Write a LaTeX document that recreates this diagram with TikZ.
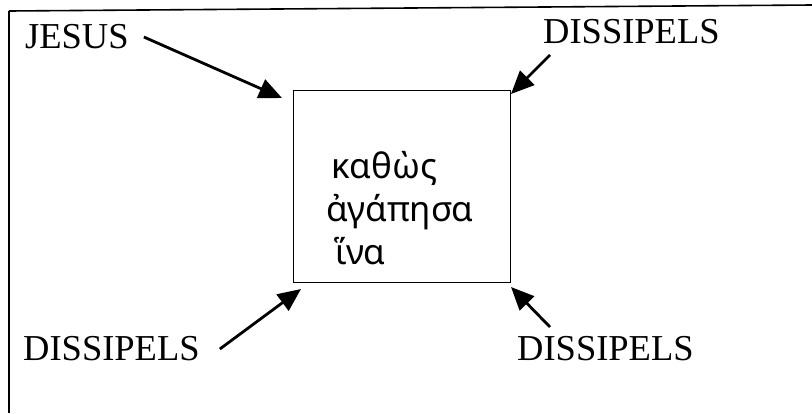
\documentclass[tikz,border=0pt]{standalone}
\usepackage{fontspec}
\setmainfont{Liberation Serif}
\newfontfamily\greekfont[Script=Greek]{Noto Sans}
\usetikzlibrary{arrows.meta}
\tikzset{
  label/.style={font=\fontsize{36.5}{40}\selectfont, inner sep=0pt, anchor=west},
  pointer/.style={line width=2.8pt, -{Triangle[length=23pt,width=20pt]}},
  frameline/.style={line width=1.6pt},
}
\begin{document}
\begin{tikzpicture}[x=1pt,y=-1pt]
\useasboundingbox (0,0) rectangle (812,413);
% open frame: top and left edges
\draw[frameline] (9,11) -- (812,5);
\draw[frameline] (9,11) -- (9,413);
% central box with the Greek words
\node[draw, line width=1pt, minimum width=217pt, minimum height=192pt, inner sep=0pt] (box) at (401.5,186) {};
\node[font=\greekfont\fontsize{35}{43}\selectfont, align=left, inner sep=0pt] (words) at (400,208)
  {\hspace*{5pt}καθὼς\\ ἀγάπησα\\ \hspace*{9pt}ἵνα};
% labels
\node[label] (jesus) at (25,37) {JESUS};
\node[label] (dtr) at (543,32) {DISSIPELS};
\node[label] (dbl) at (23,349) {DISSIPELS};
\node[label] (dbr) at (517,349) {DISSIPELS};
% pointers toward the box corners
\coordinate (ptl) at (282,98);
\coordinate (ptr) at (511,94);
\coordinate (pbl) at (301,289);
\coordinate (pbr) at (511,287);
\draw[pointer] ([xshift=15pt]jesus.east) -- (ptl);
\draw[pointer] (550,55) -- (ptr);
\draw[pointer] ([xshift=20pt]dbl.east) -- (pbl);
\draw[pointer] (550,327) -- (pbr);
\end{tikzpicture}
\end{document}
